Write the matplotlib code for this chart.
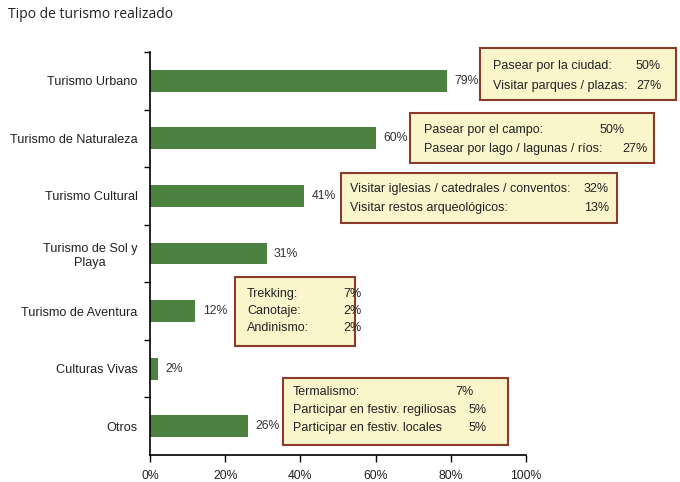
import matplotlib
matplotlib.use("Agg")
import matplotlib.pyplot as plt
from matplotlib.patches import Rectangle
from matplotlib.ticker import FixedLocator

plt.rcParams['font.family'] = ['Liberation Sans', 'DejaVu Sans']

# data
categorias = ["Turismo Urbano", "Turismo de Naturaleza", "Turismo Cultural",
              "Turismo de Sol y\nPlaya", "Turismo de Aventura", "Culturas Vivas", "Otros"]
valores = [79, 60, 41, 31, 12, 2, 26]
xticks = [0, 20, 40, 60, 80, 100]
xtick_labels = ["0%", "20%", "40%", "60%", "80%", "100%"]

urbano_det = [("Pasear por la ciudad:", "50%"), ("Visitar parques / plazas:", "27%")]
naturaleza_det = [("Pasear por el campo:", "50%"), ("Pasear por lago / lagunas / ríos:", "27%")]
cultural_det = [("Visitar iglesias / catedrales / conventos:", "32%"),
                ("Visitar restos arqueológicos:", "13%")]
aventura_det = [("Trekking:", "7%"), ("Canotaje:", "2%"), ("Andinismo:", "2%")]
otros_det = [("Termalismo:", "7%"), ("Participar en festiv. regiliosas", "5%"),
             ("Participar en festiv. locales", "5%")]

W, H = 680, 482
fig = plt.figure(figsize=(W / 100, H / 100), dpi=100)

def fx(px):
    return px / W

def fy(py):
    return 1 - py / H

ax = fig.add_axes([fx(150), fy(455), fx(526) - fx(150), fy(52) - fy(455)])

green = "#4d8142"
ypos = list(range(len(categorias)))
ax.barh(ypos, valores, height=0.38, color=green, zorder=2)
ax.set_xlim(0, 100)
ax.set_ylim(len(categorias) - 0.5, -0.5)

for y, v in zip(ypos, valores):
    ax.text(v + 2, y, f"{v}%", va="center", ha="left", fontsize=8.8, color="#333333")

ax.set_yticks(ypos)
ax.set_yticklabels(categorias, fontsize=9.1, color="#222222", multialignment="center")
ax.tick_params(axis="y", which="major", length=0, pad=9)
ax.yaxis.set_minor_locator(FixedLocator([i - 0.5 for i in range(len(categorias))]))
ax.tick_params(axis="y", which="minor", length=4, width=1, direction="out")

ax.set_xticks(xticks)
ax.set_xticklabels(xtick_labels, fontsize=8.8, color="#222222")
ax.tick_params(axis="x", length=5, width=1, direction="out", pad=6)

for s in ["top", "right"]:
    ax.spines[s].set_visible(False)
for s in ["left", "bottom"]:
    ax.spines[s].set_linewidth(1.2)

fig.text(fx(8), fy(15), "Tipo de turismo realizado", fontsize=10, color="#222222",
         family=["Open Sans", "DejaVu Sans"], va="center")

# callout boxes: (x0, y0, x1, y1, text left, line ys, pct right xs)
cajas = [
    (urbano_det, (480, 48, 676, 100), 493, [66, 86], [661, 662]),
    (naturaleza_det, (410, 113, 654, 163), 424, [130, 149], [625, 648]),
    (cultural_det, (341, 173, 617, 223), 350, [189, 208], [609, 609]),
    (aventura_det, (235, 277, 355, 346), 247, [294, 311, 328], [362, 362, 362]),
    (otros_det, (283, 378, 508, 445), 293, [392, 410, 428], [474, 487, 487]),
]
for det, (x0, y0, x1, y1), tx, lys, pxs in cajas:
    fig.patches.append(Rectangle((fx(x0), fy(y1)), fx(x1) - fx(x0), fy(y0) - fy(y1),
                                 transform=fig.transFigure, facecolor="#fbf5cb",
                                 edgecolor="#8a3b2b", linewidth=1.5, zorder=3))
    for (lab, pct), ly, px in zip(det, lys, pxs):
        fig.text(fx(tx), fy(ly), lab, fontsize=9, va="center", ha="left",
                 color="#222222", zorder=4)
        fig.text(fx(px), fy(ly), pct, fontsize=9, va="center", ha="right",
                 color="#222222", zorder=4)

fig.savefig("out.png", dpi=100)
